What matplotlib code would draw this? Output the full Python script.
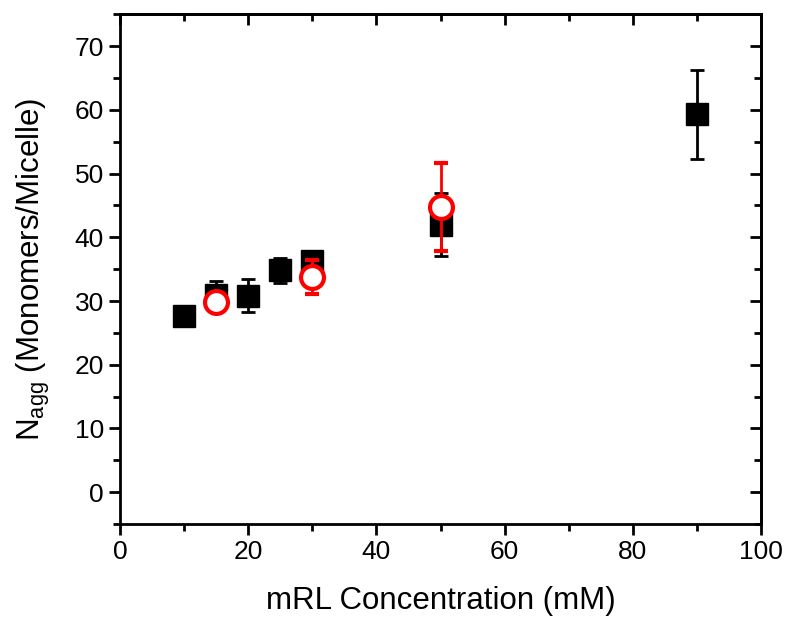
import matplotlib
matplotlib.use('Agg')
import matplotlib.pyplot as plt

plt.rcParams['font.family'] = ['Liberation Sans', 'DejaVu Sans']

# black squares
conc_sq = [10, 15, 20, 25, 30, 50, 90]
nagg_sq = [27.7, 31.0, 30.8, 34.8, 36.3, 42.0, 59.3]
err_sq = [0.5, 2.2, 2.6, 2.0, 0.8, 5.0, 7.0]

# red open circles
conc_ci = [15, 30, 50]
nagg_ci = [29.8, 33.8, 44.7]
err_ci = [1.0, 2.7, 6.9]

fig = plt.figure(figsize=(7.87, 6.2), dpi=100)
ax = fig.add_axes([0.1525, 0.1548, 0.8145, 0.8222])

ax.errorbar(conc_sq, nagg_sq, yerr=err_sq, fmt='s', color='black', ms=16,
            elinewidth=2, capsize=5, capthick=2, zorder=2)
ax.errorbar(conc_ci, nagg_ci, yerr=err_ci, fmt='o', color='red', mfc='white',
            mec='red', mew=3, ms=16.5, elinewidth=2, capsize=5, capthick=2, zorder=3)

ax.set_xlim(0, 100)
ax.set_ylim(-5, 75)
ax.set_xticks(range(0, 101, 20))
ax.set_xticks(range(10, 100, 20), minor=True)
ax.set_yticks(range(0, 71, 10))
ax.set_yticks(range(-5, 76, 10), minor=True)

for s in ax.spines.values():
    s.set_linewidth(2)

ax.tick_params(which='both', width=2, labelsize=19)
ax.tick_params(which='major', length=8)
ax.tick_params(which='minor', length=5)
ax.tick_params(axis='x', which='both', direction='out', top=False)
ax.tick_params(axis='y', which='both', direction='out', right=False)
# mirrored ticks on top/right pointing inward
ax2 = ax.secondary_xaxis('top')
ax2.set_xticks(range(0, 101, 20))
ax2.set_xticks(range(10, 100, 20), minor=True)
ax2.tick_params(which='both', direction='in', width=2, labeltop=False)
ax2.tick_params(which='major', length=8)
ax2.tick_params(which='minor', length=5)
ax3 = ax.secondary_yaxis('right')
ax3.set_yticks(range(0, 71, 10))
ax3.set_yticks(range(-5, 76, 10), minor=True)
ax3.tick_params(which='both', direction='in', width=2, labelright=False)
ax3.tick_params(which='major', length=8)
ax3.tick_params(which='minor', length=5)
for a in (ax2, ax3):
    for s in a.spines.values():
        s.set_linewidth(2)

ax.set_xlabel('mRL Concentration (mM)', fontsize=22.5, labelpad=16)
ax.set_ylabel(r'N$_{\mathregular{agg}}$ (Monomers/Micelle)', fontsize=22.5, labelpad=16)

fig.savefig('out.png', dpi=100)
